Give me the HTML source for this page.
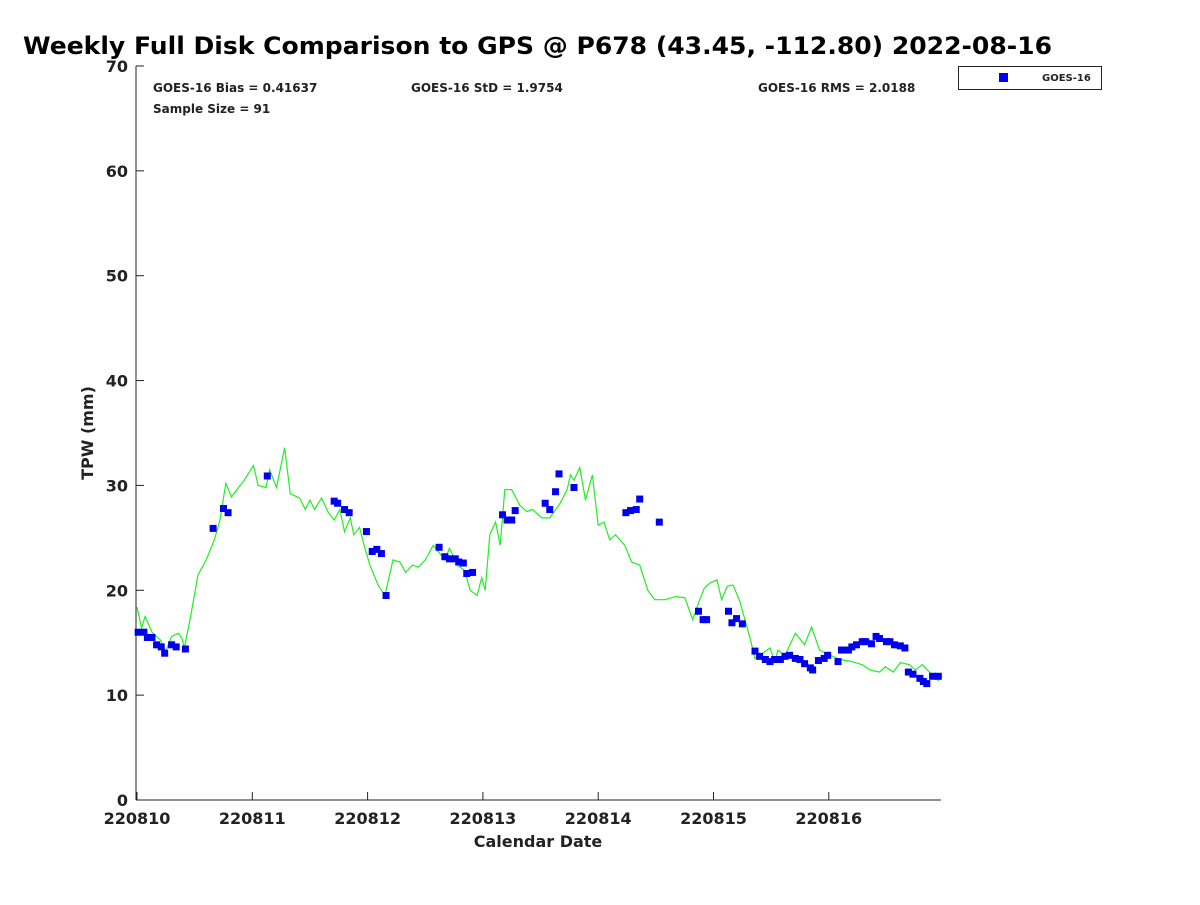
<!DOCTYPE html>
<html><head><meta charset="utf-8"><style>
body{margin:0;background:#fff;}
svg text{font-family:"DejaVu Sans","Liberation Sans",sans-serif;}
</style></head><body>
<svg id="chart" width="1200" height="900" xmlns="http://www.w3.org/2000/svg">
<rect width="1200" height="900" fill="#fff"/>
<text x="23" y="54" font-size="24" font-weight="bold" fill="#000" textLength="1029" lengthAdjust="spacingAndGlyphs">Weekly Full Disk Comparison to GPS @ P678 (43.45, -112.80) 2022-08-16</text>
<g id="axes"></g>
<g id="series"></g>
<text x="153" y="92" font-size="12" font-weight="bold" fill="#222">GOES-16 Bias = 0.41637</text>
<text x="411" y="92" font-size="12" font-weight="bold" fill="#222">GOES-16 StD = 1.9754</text>
<text x="758" y="92" font-size="12" font-weight="bold" fill="#222">GOES-16 RMS = 2.0188</text>
<text x="153" y="113" font-size="12" font-weight="bold" fill="#222">Sample Size = 91</text>
<g>
<rect x="958.5" y="66.5" width="143" height="23" fill="#fff" stroke="#222" stroke-width="1"/>
<rect x="999" y="73" width="9" height="9" fill="#0000ee"/>
<text x="1042" y="81" font-size="10" font-weight="bold" fill="#222">GOES-16</text>
</g>
<text transform="translate(93,433) rotate(-90)" text-anchor="middle" font-size="16" font-weight="bold" fill="#222">TPW (mm)</text>
<text x="538" y="847" text-anchor="middle" font-size="16" font-weight="bold" fill="#222">Calendar Date</text>
</svg>
<script>
const xTickLabels=["220810","220811","220812","220813","220814","220815","220816"];
const yTickLabels=[0,10,20,30,40,50,60,70];
const gpsDays=[0.00,0.04,0.07,0.13,0.20,0.25,0.30,0.36,0.39,0.41,0.46,0.53,0.60,0.67,0.72,0.77,0.82,0.88,0.93,1.01,1.05,1.12,1.15,1.21,1.28,1.33,1.41,1.46,1.50,1.54,1.60,1.66,1.71,1.76,1.80,1.85,1.88,1.93,1.97,2.02,2.09,2.15,2.22,2.28,2.33,2.39,2.44,2.50,2.57,2.67,2.71,2.78,2.84,2.89,2.95,2.99,3.02,3.06,3.11,3.15,3.19,3.25,3.32,3.38,3.43,3.51,3.58,3.67,3.73,3.76,3.79,3.84,3.89,3.95,4.00,4.05,4.10,4.15,4.23,4.29,4.36,4.43,4.49,4.58,4.67,4.75,4.82,4.88,4.92,4.97,5.03,5.07,5.12,5.17,5.23,5.32,5.36,5.40,5.49,5.53,5.56,5.62,5.71,5.79,5.85,5.92,6.01,6.10,6.20,6.29,6.36,6.44,6.49,6.56,6.62,6.70,6.75,6.81,6.88,6.95,6.97];
const gpsTpw=[18.4,16.4,17.5,16.0,15.3,14.2,15.6,15.9,15.4,14.5,17.2,21.5,22.9,24.8,26.7,30.2,28.9,29.8,30.5,31.9,30.0,29.8,31.5,29.8,33.6,29.2,28.8,27.7,28.6,27.7,28.8,27.4,26.7,27.7,25.6,26.9,25.3,26.0,24.3,22.4,20.5,19.5,22.9,22.7,21.7,22.4,22.2,22.9,24.3,22.9,24.0,22.4,21.9,20.0,19.5,21.2,20.0,25.3,26.5,24.3,29.6,29.6,28.1,27.5,27.7,26.9,26.9,28.3,29.6,31.0,30.5,31.7,28.6,31.0,26.2,26.5,24.8,25.3,24.3,22.7,22.4,20.0,19.1,19.1,19.4,19.3,17.2,19.1,20.2,20.7,21.0,19.1,20.4,20.5,18.9,15.3,13.5,13.8,14.5,13.2,14.3,13.8,15.9,14.8,16.5,14.3,13.8,13.4,13.2,12.9,12.4,12.2,12.7,12.2,13.1,12.9,12.4,12.9,12.1,11.4,11.7];
const goesDays=[0.01,0.06,0.09,0.13,0.17,0.21,0.24,0.30,0.34,0.42,0.66,0.75,0.79,1.13,1.71,1.74,1.80,1.84,1.99,2.04,2.08,2.12,2.16,2.62,2.67,2.71,2.76,2.79,2.83,2.86,2.91,3.17,3.21,3.25,3.28,3.54,3.58,3.63,3.66,3.79,4.24,4.28,4.33,4.36,4.53,4.87,4.91,4.94,5.13,5.16,5.20,5.25,5.36,5.40,5.45,5.49,5.53,5.58,5.62,5.66,5.71,5.75,5.79,5.84,5.86,5.91,5.96,5.99,6.08,6.11,6.17,6.20,6.24,6.29,6.32,6.37,6.41,6.44,6.50,6.53,6.57,6.62,6.66,6.69,6.73,6.79,6.82,6.85,6.90,6.95];
const goesTpw=[16.0,16.0,15.5,15.5,14.8,14.6,14.0,14.8,14.6,14.4,25.9,27.8,27.4,30.9,28.5,28.3,27.7,27.4,25.6,23.7,23.9,23.5,19.5,24.1,23.2,23.0,23.0,22.7,22.6,21.6,21.7,27.2,26.7,26.7,27.6,28.3,27.7,29.4,31.1,29.8,27.4,27.6,27.7,28.7,26.5,18.0,17.2,17.2,18.0,16.9,17.3,16.8,14.2,13.7,13.4,13.2,13.4,13.4,13.7,13.8,13.5,13.4,13.0,12.6,12.4,13.3,13.5,13.8,13.2,14.3,14.3,14.6,14.8,15.1,15.1,14.9,15.6,15.4,15.1,15.1,14.8,14.7,14.5,12.2,12.0,11.6,11.3,11.1,11.8,11.8];

const X0=137,PXD=115.3,Y0=800,PXV=10.486,L=136,R=941,T=66;
const xs=d=>X0+d*PXD, ys=v=>Y0-v*PXV;
const NS="http://www.w3.org/2000/svg";
function mk(tag,attrs,parent){const e=document.createElementNS(NS,tag);for(const k in attrs)e.setAttribute(k,attrs[k]);parent.appendChild(e);return e;}
const axes=document.getElementById('axes'), series=document.getElementById('series');
let a=mk('line',{x1:L,y1:T,x2:L,y2:Y0,stroke:'#222','stroke-width':1},axes);


a=mk('line',{x1:L,y1:Y0,x2:R,y2:Y0,stroke:'#222','stroke-width':1},axes);


yTickLabels.forEach(v=>{
  const y=ys(v);
  const t=mk('line',{x1:L,y1:y,x2:L+8,y2:y,stroke:'#222'},axes);
  
  
  const tx=mk('text',{x:L-8,y:y+6,'text-anchor':'end','font-size':16,'font-weight':'bold',fill:'#222'},axes);
  tx.textContent=v;
  
  
});
xTickLabels.forEach((lab,i)=>{
  const x=xs(i);
  const t=mk('line',{x1:x,y1:Y0,x2:x,y2:Y0-8,stroke:'#222'},axes);
  
  
  const tx=mk('text',{x:x,y:Y0+24,'text-anchor':'middle','font-size':16,'font-weight':'bold',fill:'#222'},axes);
  tx.textContent=lab;
  
  
});
const pts=gpsDays.map((d,i)=>xs(d).toFixed(1)+','+ys(gpsTpw[i]).toFixed(1)).join(' ');
const line=mk('polyline',{points:pts,fill:'none',stroke:'#22ee22','stroke-width':1.2},series);


goesDays.forEach((d,i)=>{
  const r=mk('rect',{x:xs(d)-3.5,y:ys(goesTpw[i])-3.5,width:7,height:7,fill:'#0000ee'},series);
  
  
});
</script>
</body></html>
